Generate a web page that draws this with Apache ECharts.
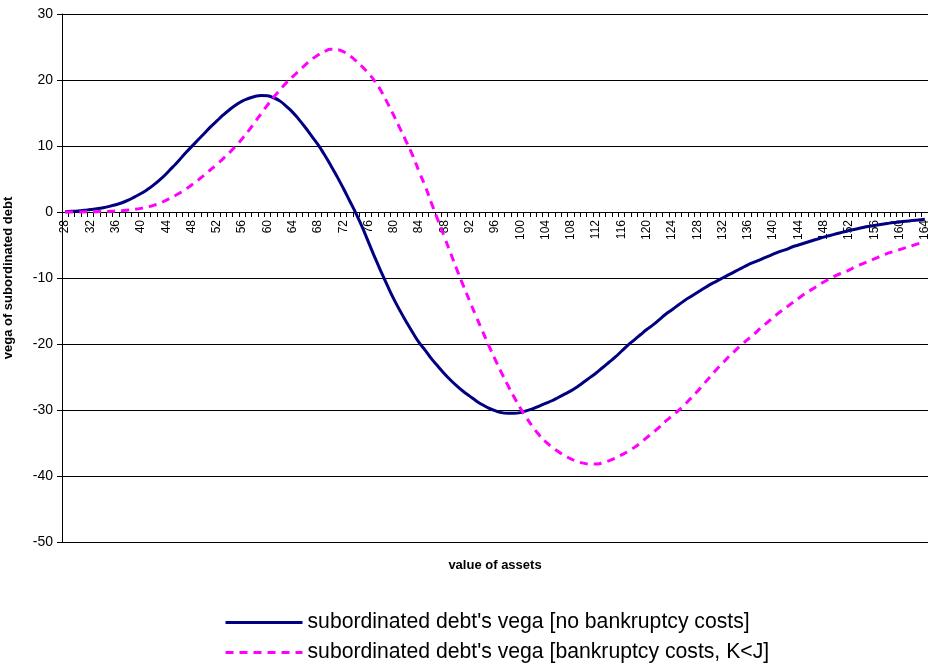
<!DOCTYPE html>
<html lang="en">
<head>
    <meta charset="UTF-8">
    <title>vega of subordinated debt</title>
    <script src="https://cdn.jsdelivr.net/npm/echarts@6/dist/echarts.min.js"></script>
    <style>
        html, body { margin: 0; padding: 0; background: #fff; }
        #main { width: 928px; height: 671px; }
    </style>
</head>
<body>
<div id="main"></div>
<script>
    // value of assets, 28 .. 164
    var assets = [
        28, 29, 30, 31, 32, 33, 34, 35, 36, 37, 38, 39, 40, 41, 42, 43, 44, 45, 46, 47,
        48, 49, 50, 51, 52, 53, 54, 55, 56, 57, 58, 59, 60, 61, 62, 63, 64, 65, 66, 67,
        68, 69, 70, 71, 72, 73, 74, 75, 76, 77, 78, 79, 80, 81, 82, 83, 84, 85, 86, 87,
        88, 89, 90, 91, 92, 93, 94, 95, 96, 97, 98, 99, 100, 101, 102, 103, 104, 105, 106, 107,
        108, 109, 110, 111, 112, 113, 114, 115, 116, 117, 118, 119, 120, 121, 122, 123, 124, 125, 126, 127,
        128, 129, 130, 131, 132, 133, 134, 135, 136, 137, 138, 139, 140, 141, 142, 143, 144, 145, 146, 147,
        148, 149, 150, 151, 152, 153, 154, 155, 156, 157, 158, 159, 160, 161, 162, 163, 164
    ];

    // no bankruptcy costs
    var vegaNoCosts = [
        0.05, 0.1, 0.15, 0.25, 0.38, 0.5, 0.65, 0.85, 1.1, 1.4,
        1.8, 2.3, 2.8, 3.4, 4.1, 4.9, 5.8, 6.8, 7.8, 8.9,
        9.9, 10.9, 11.9, 12.9, 13.8, 14.7, 15.5, 16.2, 16.8, 17.2,
        17.5, 17.65, 17.6, 17.3, 16.8, 16.0, 15.1, 14.0, 12.8, 11.5,
        10.2, 8.7, 7.1, 5.4, 3.6, 1.7, -0.2, -2.3, -4.6, -6.9,
        -9.1, -11.2, -13.2, -15.0, -16.7, -18.3, -19.8, -21.0, -22.3, -23.4,
        -24.5, -25.5, -26.4, -27.2, -27.9, -28.6, -29.2, -29.7, -30.1, -30.4,
        -30.5, -30.5, -30.4, -30.1, -29.8, -29.4, -29.0, -28.6, -28.1, -27.6,
        -27.1, -26.5, -25.8, -25.1, -24.4, -23.6, -22.8, -22.0, -21.1, -20.2,
        -19.4, -18.6, -17.8, -17.1, -16.3, -15.5, -14.8, -14.1, -13.4, -12.8,
        -12.2, -11.6, -11.0, -10.5, -10.0, -9.5, -9.0, -8.5, -8.0, -7.6,
        -7.2, -6.8, -6.4, -6.0, -5.7, -5.3, -5.0, -4.7, -4.4, -4.1,
        -3.8, -3.55, -3.3, -3.05, -2.8, -2.6, -2.4, -2.2, -2.05, -1.9,
        -1.75, -1.6, -1.5, -1.4, -1.3, -1.2, -1.1
    ];

    // bankruptcy costs, K<J
    var vegaWithCosts = [
        0, 0, 0.01, 0.02, 0.03, 0.05, 0.07, 0.1, 0.15, 0.2,
        0.3, 0.4, 0.55, 0.75, 1.0, 1.35, 1.8, 2.3, 2.8, 3.4,
        4.1, 4.8, 5.6, 6.4, 7.2, 8.1, 9.0, 10.0, 11.1, 12.3,
        13.6, 14.9, 16.2, 17.4, 18.5, 19.6, 20.5, 21.4, 22.3, 23.1,
        23.8, 24.3, 24.65, 24.6, 24.3, 23.7, 22.9, 22.0, 21.0, 19.8,
        18.3, 16.5, 14.6, 12.6, 10.6, 8.5, 6.1, 3.8, 1.2, -1.3,
        -3.8, -6.3, -8.8, -11.2, -13.5, -15.8, -18.0, -20.2, -22.3, -24.3,
        -26.2, -28.0, -29.7, -31.2, -32.6, -33.8, -34.8, -35.6, -36.3, -36.9,
        -37.4, -37.8, -38.05, -38.2, -38.2, -38.0, -37.7, -37.3, -36.8, -36.3,
        -35.7, -35.0, -34.2, -33.4, -32.6, -31.7, -30.9, -30.1, -29.2, -28.2,
        -27.2, -26.1, -25.0, -23.9, -22.9, -21.9, -21.0, -20.1, -19.3, -18.5,
        -17.6, -16.8, -16.0, -15.2, -14.5, -13.8, -13.1, -12.4, -11.8, -11.2,
        -10.6, -10.1, -9.6, -9.2, -8.8, -8.3, -7.9, -7.5, -7.1, -6.7,
        -6.3, -6.0, -5.7, -5.4, -5.1, -4.8, -4.5
    ];

    var seriesNames = [
        "subordinated debt's vega [no bankruptcy costs]",
        "subordinated debt's vega [bankruptcy costs, K<J]"
    ];

    var font = 'Liberation Sans, Arial, sans-serif';
    var chart = echarts.init(document.getElementById('main'), null, {renderer: 'canvas'});

    // plot: top 14, bottom 542; value 0 sits 30/80 of the way down
    var gridTop = 14, gridBottom = 129, plotH = 671 - gridTop - gridBottom;
    var zeroOffset = plotH * 50 / 80;

    var option = {
        animation: false,
        backgroundColor: '#fff',
        grid: {
            left: 62,
            right: 0,
            top: gridTop,
            bottom: gridBottom,
            containLabel: false,
            outerBoundsMode: 'none'
        },
        legend: {
            orient: 'vertical',
            left: 224,
            top: 612,
            padding: 0,
            itemWidth: 77,
            itemHeight: 14,
            itemGap: 9,
            itemStyle: {opacity: 0},
            lineStyle: {width: 3},
            textStyle: {fontFamily: font, fontSize: 21.2, color: '#000'},
            data: seriesNames
        },
        xAxis: {
            type: 'category',
            data: assets,
            boundaryGap: true,
            position: 'bottom',
            offset: -zeroOffset,
            name: 'value of assets',
            nameLocation: 'middle',
            nameGap: 347,
            nameMoveOverlap: false,
            nameTextStyle: {fontFamily: font, fontSize: 13, fontWeight: 'bold', color: '#000'},
            axisLine: {onZero: false, lineStyle: {color: '#000', width: 1}},
            axisTick: {show: true, interval: 0, length: 5, lineStyle: {color: '#000'}},
            axisLabel: {
                interval: 3,
                rotate: 90,
                margin: 8,
                fontFamily: font,
                fontSize: 12,
                color: '#000'
            },
            splitLine: {show: false}
        },
        yAxis: {
            type: 'value',
            min: -50,
            max: 30,
            interval: 10,
            name: 'vega of subordinated debt',
            nameLocation: 'middle',
            nameGap: 47,
            nameTextStyle: {fontFamily: font, fontSize: 13, fontWeight: 'bold', color: '#000'},
            axisLine: {show: true, lineStyle: {color: '#000', width: 1}},
            axisTick: {show: true, length: 5, lineStyle: {color: '#000'}},
            axisLabel: {margin: 9, fontFamily: font, fontSize: 14, color: '#000'},
            splitLine: {show: true, lineStyle: {color: '#000', width: 1}}
        },
        series: [
            {
                name: seriesNames[0],
                type: 'line',
                data: vegaNoCosts,
                symbol: 'none',
                smooth: true,
                color: '#000080',
                lineStyle: {color: '#000080', width: 3}
            },
            {
                name: seriesNames[1],
                type: 'line',
                data: vegaWithCosts,
                symbol: 'none',
                smooth: true,
                color: '#ff00ff',
                lineStyle: {color: '#ff00ff', width: 3, type: [8, 6]}
            }
        ]
    };

    chart.setOption(option);
</script>
</body>
</html>
